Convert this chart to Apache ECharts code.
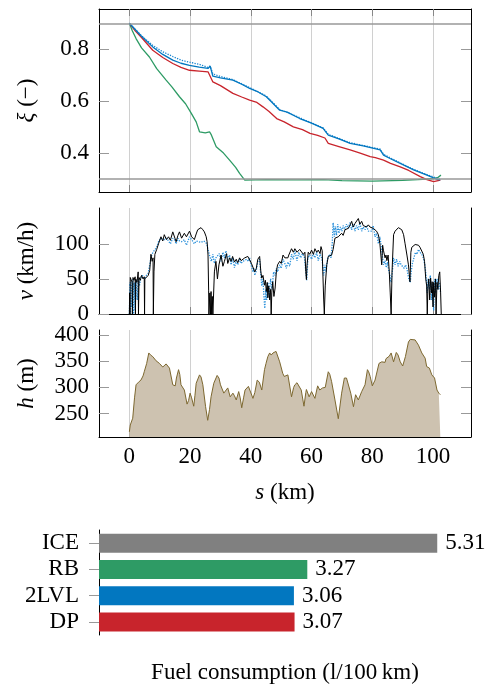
<!DOCTYPE html>
<html>
<head>
<meta charset="utf-8">
<script src="https://cdn.jsdelivr.net/npm/echarts@6/dist/echarts.min.js"></script>
<style>
  html, body { margin: 0; padding: 0; background: #fff; }
  #chart { width: 488px; height: 688px; }
</style>
</head>
<body>
<div id="chart"></div>
<script>
// ---- state of charge ξ over distance (km) ----
const socDpKm = [0, 2, 4, 7.7, 11, 14.3, 17, 19.8, 23, 25.9, 26.3, 27.5, 30, 34.1, 37, 39.6, 42, 44, 46, 48.5, 51, 54, 57, 59.5, 62, 64.4, 64.8, 65.5, 69, 72.7, 76, 79.3, 81, 83.7, 86, 89.2, 92, 95.8, 98, 100.2, 102.4];
const socDp = [0.9, 0.87, 0.845, 0.796, 0.768, 0.745, 0.73, 0.719, 0.716, 0.713, 0.716, 0.674, 0.66, 0.63, 0.616, 0.604, 0.595, 0.578, 0.56, 0.533, 0.52, 0.501, 0.49, 0.476, 0.468, 0.458, 0.465, 0.437, 0.425, 0.412, 0.4, 0.386, 0.382, 0.373, 0.36, 0.347, 0.333, 0.309, 0.298, 0.29, 0.296];

const soc2lvlKm = [0, 2, 4, 7.7, 11, 14.3, 17, 19.8, 23, 25.9, 26.6, 27.5, 30, 34.1, 37, 39.6, 42, 45.1, 47, 49.5, 52, 56.1, 60, 63.8, 64.1, 65.5, 69, 72.7, 77, 82.6, 83.2, 83.7, 86, 89.2, 93.6, 98, 98.4, 99, 100, 101, 102.4];
const soc2lvl = [0.9, 0.875, 0.85, 0.809, 0.78, 0.758, 0.746, 0.738, 0.731, 0.726, 0.735, 0.696, 0.69, 0.681, 0.665, 0.649, 0.638, 0.617, 0.595, 0.565, 0.558, 0.533, 0.515, 0.495, 0.502, 0.469, 0.455, 0.437, 0.428, 0.412, 0.41, 0.392, 0.378, 0.36, 0.335, 0.315, 0.322, 0.31, 0.305, 0.3, 0.297];

const soc2lvlRefKm = [0, 4, 7.7, 11, 14.3, 17, 19.8, 23, 25.9, 26.6, 27.5, 30, 34.1, 39.6, 45.1, 49.5, 56.1, 63.8, 65.5, 72.7, 82.6, 83.7, 89.2, 93.6, 98, 102.4];
const soc2lvlRef = [0.9, 0.852, 0.815, 0.79, 0.772, 0.758, 0.75, 0.742, 0.73, 0.735, 0.705, 0.695, 0.683, 0.652, 0.62, 0.568, 0.536, 0.497, 0.472, 0.44, 0.415, 0.395, 0.362, 0.337, 0.317, 0.298];

const socRbKm = [0, 1, 2.2, 4, 6.6, 9, 12.1, 14, 16.5, 18.5, 20.4, 22, 23.1, 25, 26.4, 27, 28.6, 31, 33, 35, 36.3, 38, 45, 55, 64, 64.3, 64.6, 70, 80, 90, 95, 98, 100, 101.5, 102.6];
const socRb = [0.9, 0.87, 0.841, 0.805, 0.77, 0.725, 0.681, 0.655, 0.617, 0.59, 0.553, 0.52, 0.482, 0.478, 0.482, 0.47, 0.424, 0.4, 0.373, 0.345, 0.322, 0.296, 0.298, 0.297, 0.298, 0.305, 0.298, 0.294, 0.292, 0.295, 0.298, 0.3, 0.302, 0.305, 0.315];

const socBounds = [0.3, 0.9];

// ---- vehicle speed v (km/h): [km, value] ----
const speedDriven = [[0,0],[0.1,30],[0.2,0],[0.3,52],[0.6,50],[0.9,45],[1.0,0],[1.2,52],[1.5,48],[1.9,53],[2.0,0],[2.1,50],[2.5,45],[2.9,60],[3.0,0],[3.2,52],[3.6,48],[4.0,55],[4.5,50],[4.9,53],[5.0,0],[5.1,50],[5.6,48],[6.2,55],[6.7,62],[7.1,85],[7.5,75],[7.8,80],[7.9,0],[8.1,60],[8.4,85],[9.0,92],[9.6,100],[10.4,110],[11.0,104],[11.5,113],[12.2,106],[12.9,110],[13.5,105],[14.3,117],[15.0,108],[15.4,103],[16.0,112],[16.5,117],[17.2,108],[18.1,115],[18.8,110],[19.8,118],[20.5,110],[21.4,106],[22.0,114],[22.5,120],[23.1,118],[23.6,123],[24.2,120],[24.7,117],[25.3,110],[25.6,103],[25.9,84],[26.1,34],[26.2,0],[26.5,30],[26.7,0],[26.9,32],[27.1,0],[27.3,25],[27.5,0],[27.8,0],[28.0,60],[28.5,75],[29.0,50],[29.5,70],[30.2,84],[30.8,68],[31.3,75],[32.0,86],[32.4,72],[33.0,80],[33.5,75],[34.0,82],[34.6,74],[35.2,78],[35.7,73],[36.3,80],[36.8,76],[37.4,78],[38.0,80],[39.0,82],[39.6,84],[40.2,72],[40.7,70],[41.3,60],[41.8,65],[42.3,78],[42.9,82],[43.3,60],[43.6,51],[44.0,55],[44.5,41],[44.8,48],[45.1,32],[45.4,45],[45.6,23],[45.9,40],[46.2,20],[46.5,35],[46.7,0],[46.9,30],[47.2,46],[47.6,25],[48.0,37],[48.4,60],[48.8,70],[49.5,75],[50.0,72],[50.6,84],[51.2,80],[52.2,80],[52.5,84],[53.4,93],[54.0,88],[54.5,93],[55.2,88],[56.1,92],[56.7,93],[57.3,85],[57.8,88],[58.1,60],[58.3,49],[58.5,70],[58.9,88],[59.4,85],[60,91],[60.6,85],[61.1,93],[61.7,88],[62.2,91],[62.8,86],[63.1,96],[63.5,90],[63.7,60],[64.0,20],[64.2,0],[64.5,40],[65.0,70],[65.5,82],[66.0,80],[66.6,84],[67.1,92],[67.7,108],[68.2,106],[68.8,110],[69.3,108],[69.9,115],[70.4,112],[71.0,120],[71.5,118],[72.1,122],[72.6,126],[73.2,132],[73.7,124],[74.3,129],[74.8,127],[75.4,136],[75.9,128],[76.5,132],[77.0,126],[77.6,127],[78.1,124],[78.7,127],[79.2,124],[79.8,125],[80.3,122],[80.9,120],[81.4,118],[82.0,113],[82.5,100],[83.1,70],[83.4,98],[83.7,90],[84.2,80],[84.5,84],[84.8,76],[85.2,84],[85.6,60],[85.9,30],[86.2,0],[86.5,60],[87.0,113],[87.5,118],[88.1,120],[88.6,123],[89.2,125],[89.7,120],[90.3,113],[90.8,100],[91.4,84],[91.9,70],[92.4,46],[92.7,88],[93.0,95],[93.5,97],[94.1,99],[94.6,97],[95.2,98],[95.7,95],[96.3,93],[96.8,85],[97.2,75],[97.6,50],[97.9,40],[98.1,0],[98.3,37],[98.6,50],[98.9,20],[99.2,51],[99.5,30],[99.7,46],[100.0,10],[100.2,45],[100.5,24],[100.8,50],[101.0,0],[101.3,45],[101.6,35],[101.9,55],[102.2,60],[102.5,30],[102.7,0]];

const speedPlanned = [[0,0],[0.2,45],[0.4,0],[0.6,48],[0.9,10],[1.1,50],[1.4,0],[1.6,45],[1.9,5],[2.2,48],[2.6,20],[2.9,50],[3.3,40],[3.8,52],[4.3,55],[5.0,50],[5.6,55],[6.2,58],[6.7,70],[7.2,82],[7.8,88],[8.4,90],[9.0,95],[9.6,103],[10.4,108],[11.0,110],[11.5,106],[12.2,108],[12.9,104],[13.5,100],[14.3,108],[15.0,105],[15.4,100],[16.0,108],[16.5,104],[17.2,103],[18.1,106],[18.8,98],[19.8,110],[20.5,106],[21.4,100],[22.0,104],[22.5,105],[23.6,102],[24.5,104],[25.2,102],[25.6,98],[26.0,90],[26.5,82],[27.0,75],[27.5,85],[28.0,72],[28.5,80],[29.0,78],[29.6,86],[30.2,75],[30.8,88],[31.3,80],[31.8,90],[32.4,78],[33.0,84],[33.5,70],[34.0,80],[34.6,66],[35.2,76],[35.7,70],[36.3,78],[36.8,72],[37.4,75],[38.0,74],[38.6,78],[39.2,75],[39.6,80],[40.2,68],[40.7,60],[41.0,65],[41.3,55],[41.8,62],[42.3,75],[42.9,78],[43.3,55],[43.6,40],[44.0,50],[44.3,25],[44.6,8],[44.9,35],[45.2,20],[45.6,45],[46.0,25],[46.5,50],[47.0,35],[47.5,60],[48.0,55],[48.4,65],[48.8,60],[49.5,70],[50.0,65],[50.6,78],[51.2,72],[51.7,65],[52.2,74],[52.8,68],[53.4,85],[54.0,78],[54.5,90],[55.2,76],[55.8,88],[56.4,80],[57.0,86],[57.6,82],[58.0,65],[58.4,48],[58.8,80],[59.4,84],[60.0,78],[60.6,86],[61.1,80],[61.7,88],[62.2,76],[62.8,85],[63.3,80],[63.7,70],[64.0,55],[64.4,70],[64.8,60],[65.2,78],[65.6,82],[66.0,85],[66.4,80],[66.8,100],[67.1,130],[67.5,110],[67.8,125],[68.2,112],[68.6,128],[69.0,115],[69.5,124],[70.0,118],[70.4,126],[71.0,120],[71.5,128],[72.1,122],[72.6,130],[73.2,120],[73.7,128],[74.3,118],[74.8,126],[75.4,120],[75.9,130],[76.5,118],[77.0,124],[77.6,120],[78.1,126],[78.7,118],[79.2,120],[79.8,118],[80.3,126],[80.9,110],[81.4,115],[82.0,100],[82.5,110],[83.0,95],[83.4,80],[83.7,70],[84.2,76],[84.6,66],[85.0,74],[85.4,62],[85.8,55],[86.2,45],[86.6,60],[87.0,80],[87.5,70],[88.0,78],[88.5,68],[89.0,75],[89.5,70],[90.0,72],[90.5,65],[91.0,70],[91.5,62],[92.0,50],[92.5,45],[92.8,60],[93.2,72],[93.7,80],[94.2,88],[94.7,85],[95.2,92],[95.7,88],[96.3,85],[96.8,80],[97.3,70],[97.7,55],[98.1,30],[98.4,50],[98.8,35],[99.1,55],[99.5,20],[99.8,45],[100.2,5],[100.5,50],[100.9,30],[101.3,50],[101.7,35],[102.1,45],[102.5,30]];

// ---- road elevation h (m): [km, value] ----
const elevation = [[0,215],[0.3,228],[1.1,241],[1.7,280],[2.2,305],[2.6,304],[3.0,310],[3.8,314],[4.5,322],[4.9,330],[5.7,346],[6.4,366],[7.0,362],[7.7,359],[8.8,351],[9.9,346],[10.4,348],[11.0,339],[11.6,342],[12.1,345],[12.6,343],[13.2,337],[14.3,305],[14.8,302],[15.1,303],[15.5,318],[16.2,334],[16.6,325],[17.0,305],[17.5,303],[18.1,295],[19.0,268],[19.5,275],[20.0,289],[20.5,280],[21.2,264],[21.6,285],[22.0,308],[23.1,324],[23.6,320],[24.2,305],[25.1,263],[25.8,237],[26.4,258],[26.9,282],[27.8,308],[28.9,323],[29.5,318],[30.0,305],[31.1,289],[31.6,292],[32.4,299],[33.2,282],[34.1,289],[34.6,284],[35.2,276],[36.0,292],[36.5,280],[37.0,261],[37.6,280],[38.1,295],[39.2,302],[39.8,300],[40.7,279],[41.3,290],[42.1,314],[42.8,310],[43.2,308],[43.6,295],[44.5,334],[45.0,346],[45.6,359],[46.2,366],[46.7,362],[47.3,366],[47.8,365],[48.3,369],[48.7,369],[49.5,349],[50.5,327],[51.0,321],[51.6,321],[52.2,324],[52.7,322],[53.4,282],[54.1,300],[54.5,305],[55.2,309],[55.8,309],[56.6,295],[57.5,264],[58.1,290],[58.3,296],[59.2,282],[60.0,292],[61.1,279],[62.0,303],[62.7,295],[63.6,299],[64.2,296],[64.5,300],[65.5,330],[66.0,325],[66.6,311],[67.7,276],[68.8,240],[69.9,289],[70.8,318],[71.5,318],[71.9,316],[72.9,289],[73.8,263],[74.5,286],[75.4,276],[76.5,292],[77.6,305],[78.4,334],[78.8,330],[79.3,321],[80.0,303],[80.9,314],[82.2,346],[83.1,349],[83.5,350],[84.2,348],[84.5,355],[85.1,352],[85.6,360],[86.2,366],[87.0,349],[87.9,367],[88.5,362],[89.2,349],[90.0,341],[90.9,359],[91.9,387],[92.5,392],[93.0,392],[94.1,391],[95.2,381],[96.3,366],[97.4,356],[97.9,340],[98.3,342],[98.8,337],[99.6,324],[100.5,318],[101.3,295],[101.9,289],[102.4,286]];

// ---- fuel consumption (l/100 km) ----
const strategies = ['DP', '2LVL', 'RB', 'ICE'];
const fuel = [3.07, 3.06, 3.27, 5.31];
const strategyColors = ['#c8242c', '#0277c0', '#2e9b65', '#808080'];

// ---- tick values ----
const distTicks = [0, 20, 40, 60, 80, 100];
const socTicks = [0.4, 0.6, 0.8];
const speedTicks = [0, 50, 100];
const elevTicks = [250, 300, 350, 400];

const FONT = 'Liberation Serif';
const FS = 23;
const zip = (xs, ys) => xs.map((x, i) => [x, ys[i]]);

const grids = [
  { left: 99, top: 9, width: 372, height: 183 },
  { left: 99, top: 208, width: 372, height: 106 },
  { left: 99, top: 330, width: 372, height: 107 },
  { left: 99, top: 530, width: 372, height: 105 }
].map(g => Object.assign({ outerBoundsMode: 'none', containLabel: false }, g));

const italicRich = { i: { fontFamily: FONT, fontSize: FS, fontStyle: 'italic', color: '#000' } };

function distAxis(gi, withLabels) {
  return {
    type: 'value', gridIndex: gi, min: -10, max: 112.5,
    axisLine: { show: true, onZero: false, lineStyle: { color: '#000', width: 1 } },
    axisTick: { show: true, inside: true, length: 7, customValues: distTicks, lineStyle: { color: '#888', width: 1 } },
    axisLabel: { show: withLabels, customValues: distTicks, margin: 8, color: '#000', fontFamily: FONT, fontSize: FS },
    splitLine: { show: true, lineStyle: { color: '#d0d0d0', width: 1 } }
  };
}
function topBorder(gi) {
  return {
    type: 'value', gridIndex: gi, min: -10, max: 112.5, position: 'top',
    axisLine: { show: true, onZero: false, lineStyle: { color: '#000', width: 1 } },
    axisTick: { show: true, inside: true, length: 7, customValues: distTicks, lineStyle: { color: '#888', width: 1 } },
    axisLabel: { show: false }, splitLine: { show: false }
  };
}
function valAxis(gi, min, max, ticks, name, side) {
  const left = side === 'left';
  return {
    type: 'value', gridIndex: gi, min, max, position: side,
    name: left ? name : '', nameLocation: 'middle', nameRotate: 90, nameGap: 61,
    nameTextStyle: { fontFamily: FONT, fontSize: FS, color: '#000', rich: italicRich },
    axisLine: { show: true, onZero: false, lineStyle: { color: '#000', width: 1 } },
    axisTick: { show: true, inside: true, length: 10, customValues: ticks, lineStyle: { color: '#999', width: 1 } },
    axisLabel: { show: left, customValues: ticks, margin: 10, color: '#000', fontFamily: FONT, fontSize: FS },
    splitLine: { show: false }
  };
}

const socLine = (name, data, color, type) => ({
  name, type: 'line', xAxisIndex: 0, yAxisIndex: 0, data, showSymbol: false,
  lineStyle: { color, width: 1.3, type: type || 'solid' }, silent: true
});

const option = {
  animation: false,
  backgroundColor: '#fff',
  grid: grids,
  xAxis: [
    distAxis(0, false), distAxis(1, false),
    Object.assign(distAxis(2, true), {
      name: '{i|s} (km)', nameLocation: 'middle', nameGap: 44,
      nameTextStyle: { fontFamily: FONT, fontSize: FS, color: '#000', rich: italicRich }
    }),
    {
      type: 'value', gridIndex: 3, min: 0, max: 5.84,
      name: 'Fuel consumption (l/100\u2009km)', nameLocation: 'middle', nameGap: 26,
      nameTextStyle: { fontFamily: FONT, fontSize: FS, color: '#000' },
      axisLine: { show: false }, axisTick: { show: false }, axisLabel: { show: false }, splitLine: { show: false }
    },
    topBorder(0)
  ],
  yAxis: [
    valAxis(0, 0.25, 0.955, socTicks, '{i|ξ} (−)', 'left'),
    valAxis(1, 0, 151, speedTicks, '{i|v} (km/h)', 'left'),
    valAxis(2, 205, 410, elevTicks, '{i|h} (m)', 'left'),
    {
      type: 'category', gridIndex: 3, data: strategies,
      axisLine: { show: true, lineStyle: { color: '#000', width: 1 } },
      axisTick: { show: true, alignWithLabel: true, interval: 0, length: 10, lineStyle: { color: '#999', width: 1 } },
      axisLabel: { interval: 0, margin: 20, color: '#000', fontFamily: FONT, fontSize: FS }
    },
    valAxis(0, 0.25, 0.955, socTicks, '', 'right'),
    valAxis(1, 0, 151, speedTicks, '', 'right'),
    valAxis(2, 205, 410, elevTicks, '', 'right')
  ],
  series: [
    Object.assign(socLine('RB', zip(socRbKm, socRb), '#2e9b65'), {
      markLine: {
        silent: true, symbol: 'none', label: { show: false },
        lineStyle: { color: '#999', width: 1.5, type: 'solid' },
        data: socBounds.map(v => ({ yAxis: v }))
      }
    }),
    socLine('DP', zip(socDpKm, socDp), '#c8242c'),
    socLine('2LVL ref', zip(soc2lvlRefKm, soc2lvlRef), '#1a86d0', 'dotted'),
    socLine('2LVL', zip(soc2lvlKm, soc2lvl), '#0277c0'),
    {
      type: 'line', xAxisIndex: 1, yAxisIndex: 1, data: speedPlanned, showSymbol: false, silent: true,
      lineStyle: { color: '#2a90da', width: 1.3, type: 'dotted' }
    },
    {
      type: 'line', xAxisIndex: 1, yAxisIndex: 1, data: speedDriven, showSymbol: false, silent: true,
      lineStyle: { color: '#000', width: 1 }
    },
    {
      type: 'line', xAxisIndex: 2, yAxisIndex: 2, data: elevation, showSymbol: false, silent: true,
      lineStyle: { color: '#7d6830', width: 1 },
      areaStyle: { color: '#cdc2b0', opacity: 1, origin: 'start' }
    },
    {
      type: 'bar', xAxisIndex: 3, yAxisIndex: 3, barWidth: 19, silent: true,
      data: fuel.map((v, i) => ({ value: v, itemStyle: { color: strategyColors[i] } })),
      label: { show: true, position: 'right', distance: 8, color: '#000', fontFamily: FONT, fontSize: FS,
        formatter: p => p.value.toFixed(2) }
    }
  ]
};

const chart = echarts.init(document.getElementById('chart'), null, { renderer: 'canvas' });
chart.setOption(option);
</script>
</body>
</html>
